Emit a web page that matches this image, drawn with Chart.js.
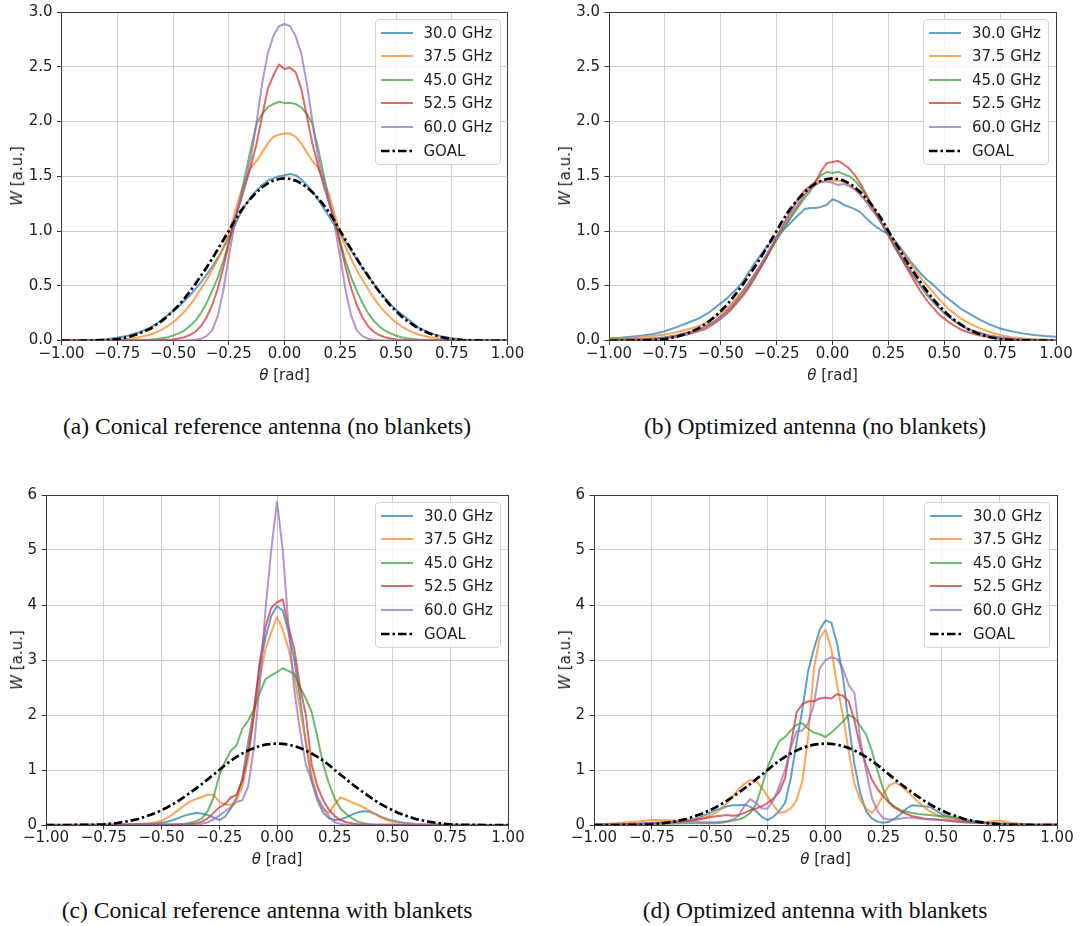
<!DOCTYPE html>
<html><head><meta charset="utf-8">
<script src="https://cdn.jsdelivr.net/npm/chart.js@4.4.1/dist/chart.umd.min.js"></script>
<style>
html,body{margin:0;padding:0;background:#fff;}
body{width:1080px;height:926px;position:relative;overflow:hidden;font-family:'DejaVu Sans',sans-serif;}
.cap{position:absolute;font-family:'Liberation Serif','Times New Roman',serif;font-size:23.6px;color:#111;white-space:nowrap;transform:translate(-50%,-50%);}
.ytl{position:absolute;font-size:15px;color:#222;white-space:nowrap;transform:translate(-50%,-50%) rotate(-90deg);}
.xtl{position:absolute;font-size:15px;color:#222;white-space:nowrap;transform:translate(-50%,-50%);}
.leg{position:absolute;background:rgba(255,255,255,0.8);border:1px solid #d3d3d3;border-radius:4px;box-sizing:border-box;}
.leg .row{position:absolute;left:0;width:100%;height:20px;}
.leg .row svg{position:absolute;left:5px;top:5px;}
.leg .row span{position:absolute;left:48px;top:0;line-height:20px;font-size:15px;color:#222;white-space:nowrap;}
</style>
</head><body>
<script>
// ---------------- DATA ----------------
const THETA = [-1,-0.95,-0.9,-0.85,-0.8,-0.75,-0.7,-0.65,
 -0.6,-0.575,-0.55,-0.525,-0.5,-0.475,-0.45,-0.425,-0.4,-0.375,-0.35,-0.325,-0.3,-0.275,-0.25,-0.225,-0.2,-0.175,-0.15,-0.125,-0.1,-0.075,-0.05,-0.025,
 0,
 0.025,0.05,0.075,0.1,0.125,0.15,0.175,0.2,0.225,0.25,0.275,0.3,0.325,0.35,0.375,0.4,0.425,0.45,0.475,0.5,0.525,0.55,0.575,0.6,
 0.65,0.7,0.75,0.8,0.85,0.9,0.95,1];

const SERIES = ['30.0 GHz','37.5 GHz','45.0 GHz','52.5 GHz','60.0 GHz'];
const GOAL_LABEL = 'GOAL';
const X_TICKS = [-1,-0.75,-0.5,-0.25,0,0.25,0.5,0.75,1];
const Y_TICKS_TOP = [0,0.5,1,1.5,2,2.5,3];
const Y_TICKS_BOTTOM = [0,1,2,3,4,5,6];
const CAPTIONS = ['(a) Conical reference antenna (no blankets)','(b) Optimized antenna (no blankets)','(c) Conical reference antenna with blankets','(d) Optimized antenna with blankets'];

const GOAL = [0,0,0,0.001,0.003,0.012,0.032,0.065,
 0.11,0.145,0.18,0.22,0.27,0.32,0.38,0.445,0.515,0.59,0.665,0.745,0.83,0.915,1.0,1.09,1.17,1.24,1.3,1.355,1.4,1.435,1.46,1.475,
 1.48,
 1.475,1.46,1.435,1.4,1.355,1.3,1.24,1.17,1.09,1.0,0.915,0.83,0.745,0.665,0.59,0.515,0.445,0.38,0.32,0.27,0.22,0.18,0.145,0.11,
 0.065,0.032,0.012,0.003,0.001,0,0,0];

// (a) Conical reference antenna (no blankets)
const A_30 = [0,0,0.002,0.005,0.012,0.025,0.045,0.075,
 0.12,0.15,0.19,0.23,0.27,0.31,0.36,0.41,0.47,0.53,0.6,0.67,0.75,0.84,0.94,1.04,1.15,1.24,1.31,1.37,1.42,1.46,1.48,1.5,
 1.51,
 1.52,1.51,1.47,1.42,1.36,1.29,1.21,1.13,1.05,0.98,0.9,0.82,0.74,0.66,0.59,0.52,0.45,0.39,0.33,0.28,0.24,0.2,0.16,0.12,
 0.07,0.04,0.02,0.01,0.005,0.002,0,0];
const A_375 = [0,0,0,0.001,0.003,0.007,0.015,0.03,
 0.055,0.075,0.1,0.13,0.165,0.21,0.26,0.32,0.39,0.47,0.55,0.64,0.74,0.85,0.97,1.15,1.33,1.47,1.58,1.64,1.72,1.8,1.86,1.88,
 1.89,
 1.89,1.86,1.8,1.72,1.64,1.58,1.47,1.33,1.15,0.97,0.85,0.74,0.64,0.55,0.47,0.39,0.32,0.26,0.21,0.165,0.13,0.1,0.075,0.055,
 0.03,0.015,0.007,0.003,0.001,0,0,0];
const A_45 = [0,0,0,0,0,0.001,0.002,0.005,
 0.01,0.014,0.02,0.03,0.045,0.065,0.09,0.13,0.18,0.25,0.34,0.45,0.57,0.72,0.9,1.08,1.28,1.52,1.76,1.98,2.07,2.13,2.16,2.18,
 2.17,
 2.17,2.16,2.13,2.07,1.98,1.76,1.52,1.28,1.08,0.9,0.72,0.57,0.45,0.34,0.25,0.18,0.13,0.09,0.065,0.045,0.03,0.02,0.014,0.01,
 0.005,0.002,0.001,0,0,0,0,0];
const A_525 = [0,0,0,0,0,0,0,0,
 0.001,0.002,0.004,0.006,0.01,0.018,0.03,0.05,0.08,0.13,0.21,0.32,0.47,0.66,0.88,1.1,1.25,1.42,1.6,1.8,2.05,2.3,2.42,2.52,
 2.48,
 2.49,2.45,2.3,2.05,1.8,1.6,1.42,1.25,1.1,0.88,0.66,0.47,0.32,0.21,0.13,0.08,0.05,0.03,0.018,0.01,0.006,0.004,0.002,0.001,
 0,0,0,0,0,0,0,0];
const A_60 = [0,0,0,0,0,0,0,0,
 0,0,0,0,0,0,0.001,0.003,0.006,0.015,0.04,0.09,0.22,0.45,0.76,1.05,1.27,1.45,1.68,2.0,2.35,2.62,2.78,2.87,
 2.89,
 2.87,2.78,2.62,2.35,2.0,1.68,1.45,1.27,1.05,0.76,0.45,0.22,0.09,0.04,0.015,0.006,0.003,0.001,0,0,0,0,0,0,
 0,0,0,0,0,0,0,0];

// (b) Optimized antenna (no blankets)
const B_30 = [0.02,0.025,0.035,0.045,0.06,0.085,0.12,0.16,
 0.2,0.23,0.26,0.3,0.34,0.38,0.43,0.48,0.54,0.62,0.7,0.77,0.84,0.9,0.95,1.0,1.05,1.1,1.15,1.2,1.21,1.21,1.22,1.24,
 1.29,
 1.27,1.24,1.22,1.2,1.17,1.12,1.07,1.03,1.0,0.97,0.92,0.86,0.79,0.72,0.66,0.6,0.55,0.51,0.46,0.41,0.37,0.33,0.29,0.26,
 0.2,0.15,0.11,0.085,0.065,0.05,0.04,0.035];
const B_375 = [0.01,0.015,0.02,0.03,0.04,0.055,0.075,0.1,
 0.13,0.15,0.18,0.21,0.25,0.29,0.34,0.4,0.46,0.53,0.6,0.68,0.76,0.84,0.92,1.0,1.08,1.16,1.24,1.33,1.4,1.44,1.45,1.46,
 1.46,
 1.46,1.45,1.42,1.38,1.33,1.27,1.2,1.13,1.06,0.99,0.91,0.84,0.77,0.7,0.63,0.56,0.5,0.44,0.38,0.33,0.28,0.24,0.2,0.17,
 0.12,0.08,0.05,0.03,0.02,0.012,0.008,0.005];
const B_45 = [0.005,0.006,0.008,0.012,0.02,0.03,0.045,0.07,
 0.1,0.12,0.15,0.18,0.22,0.26,0.31,0.37,0.43,0.5,0.58,0.66,0.74,0.83,0.92,1.0,1.08,1.16,1.23,1.3,1.36,1.46,1.51,1.54,
 1.53,
 1.54,1.52,1.5,1.46,1.4,1.32,1.23,1.14,1.05,0.96,0.86,0.78,0.7,0.62,0.55,0.48,0.41,0.35,0.3,0.25,0.21,0.17,0.14,0.11,
 0.075,0.045,0.028,0.016,0.01,0.006,0.004,0.003];
const B_525 = [0.005,0.005,0.006,0.008,0.012,0.02,0.035,0.055,
 0.085,0.1,0.13,0.16,0.2,0.24,0.29,0.35,0.41,0.48,0.56,0.65,0.74,0.84,0.94,1.04,1.13,1.22,1.3,1.37,1.41,1.45,1.55,1.62,
 1.63,
 1.64,1.61,1.57,1.51,1.43,1.34,1.24,1.15,1.05,0.96,0.87,0.78,0.69,0.6,0.51,0.43,0.36,0.3,0.24,0.2,0.16,0.13,0.1,0.08,
 0.05,0.03,0.016,0.01,0.006,0.005,0.004,0.004];
const B_60 = [0.005,0.006,0.008,0.012,0.018,0.028,0.045,0.07,
 0.1,0.12,0.15,0.18,0.22,0.27,0.32,0.38,0.45,0.52,0.6,0.68,0.77,0.86,0.94,1.03,1.11,1.19,1.26,1.33,1.38,1.42,1.45,1.45,
 1.44,
 1.42,1.43,1.41,1.38,1.33,1.27,1.2,1.13,1.05,0.97,0.88,0.8,0.72,0.64,0.56,0.49,0.42,0.36,0.3,0.25,0.21,0.17,0.14,0.11,
 0.07,0.045,0.027,0.016,0.01,0.007,0.005,0.004];

// (c) Conical reference antenna with blankets
const C_30 = [0.003,0.004,0.005,0.006,0.008,0.01,0.012,0.015,
 0.02,0.022,0.025,0.03,0.04,0.06,0.09,0.13,0.17,0.2,0.22,0.21,0.18,0.14,0.09,0.15,0.3,0.5,0.85,1.5,2.1,2.9,3.4,3.8,
 3.98,
 3.9,3.5,3.0,2.3,1.5,0.8,0.45,0.22,0.12,0.09,0.1,0.14,0.19,0.23,0.25,0.24,0.2,0.15,0.11,0.08,0.06,0.04,0.03,0.02,
 0.012,0.008,0.005,0.004,0.003,0.002,0.002,0.002];
const C_375 = [0.002,0.002,0.003,0.004,0.005,0.006,0.008,0.01,
 0.015,0.02,0.03,0.05,0.08,0.13,0.2,0.28,0.36,0.43,0.47,0.51,0.55,0.55,0.42,0.38,0.36,0.45,0.7,1.2,2.0,2.65,3.2,3.5,
 3.78,
 3.55,3.2,2.7,2.1,1.5,0.9,0.5,0.28,0.22,0.38,0.5,0.46,0.41,0.37,0.32,0.26,0.2,0.14,0.09,0.06,0.035,0.02,0.012,0.008,
 0.005,0.004,0.003,0.002,0.002,0.002,0.002,0.002];
const C_45 = [0.002,0.002,0.002,0.002,0.002,0.002,0.002,0.002,
 0.003,0.003,0.004,0.005,0.006,0.008,0.01,0.015,0.025,0.04,0.07,0.12,0.25,0.5,0.9,1.15,1.35,1.45,1.75,1.9,2.1,2.4,2.65,2.72,
 2.78,
 2.85,2.8,2.75,2.5,2.3,2.05,1.6,1.1,0.75,0.48,0.3,0.2,0.12,0.06,0.03,0.015,0.008,0.005,0.004,0.003,0.002,0.002,0.002,0.002,
 0.002,0.002,0.002,0.002,0.002,0.002,0.002,0.002];
const C_525 = [0.002,0.002,0.002,0.002,0.002,0.002,0.002,0.002,
 0.003,0.003,0.004,0.005,0.005,0.006,0.007,0.008,0.01,0.015,0.03,0.06,0.12,0.22,0.32,0.38,0.5,0.55,0.8,1.3,2.0,2.95,3.6,3.95,
 4.05,
 4.1,3.6,3.2,2.5,2.0,1.1,0.7,0.45,0.28,0.16,0.09,0.05,0.03,0.015,0.01,0.006,0.004,0.004,0.003,0.003,0.002,0.002,0.002,0.002,
 0.002,0.002,0.002,0.002,0.002,0.002,0.002,0.002];
const C_60 = [0.002,0.002,0.002,0.002,0.002,0.002,0.002,0.002,
 0.003,0.003,0.003,0.003,0.004,0.004,0.005,0.005,0.006,0.008,0.01,0.02,0.05,0.1,0.17,0.25,0.32,0.42,0.45,0.7,1.4,2.55,3.9,5.0,
 5.88,
 5.0,3.6,2.45,1.7,1.1,0.8,0.5,0.32,0.15,0.05,0.02,0.01,0.006,0.004,0.003,0.003,0.002,0.002,0.002,0.002,0.002,0.002,0.002,0.002,
 0.002,0.002,0.002,0.002,0.002,0.002,0.002,0.002];

// (d) Optimized antenna with blankets
const D_30 = [0.005,0.008,0.012,0.02,0.03,0.04,0.05,0.06,
 0.08,0.1,0.13,0.17,0.22,0.27,0.3,0.34,0.36,0.36,0.37,0.33,0.25,0.15,0.09,0.15,0.25,0.4,0.85,1.5,2.1,2.8,3.2,3.55,
 3.72,
 3.68,3.3,2.7,1.85,1.1,0.58,0.25,0.12,0.06,0.04,0.06,0.12,0.2,0.3,0.36,0.35,0.34,0.33,0.27,0.2,0.16,0.13,0.1,0.08,
 0.05,0.035,0.025,0.015,0.01,0.006,0.004,0.003];
const D_375 = [0.01,0.02,0.03,0.05,0.07,0.09,0.09,0.08,
 0.07,0.08,0.1,0.13,0.17,0.22,0.3,0.4,0.52,0.65,0.75,0.82,0.8,0.68,0.52,0.36,0.22,0.24,0.3,0.45,0.8,1.6,2.85,3.4,
 3.55,
 3.2,2.55,2.0,1.35,0.75,0.45,0.3,0.22,0.35,0.55,0.72,0.77,0.72,0.62,0.52,0.42,0.33,0.25,0.2,0.15,0.12,0.1,0.08,0.07,
 0.05,0.06,0.08,0.04,0.02,0.01,0.005,0.003];
const D_45 = [0.003,0.004,0.005,0.007,0.01,0.015,0.02,0.025,
 0.03,0.03,0.03,0.03,0.03,0.03,0.04,0.06,0.08,0.1,0.14,0.22,0.38,0.7,1.05,1.3,1.52,1.6,1.72,1.82,1.85,1.75,1.68,1.65,
 1.6,
 1.68,1.78,1.88,2.0,1.95,1.8,1.65,1.35,0.98,0.64,0.42,0.33,0.27,0.24,0.22,0.2,0.19,0.18,0.17,0.16,0.16,0.15,0.13,0.1,
 0.06,0.04,0.03,0.02,0.01,0.006,0.004,0.003];
const D_525 = [0.005,0.007,0.01,0.015,0.02,0.03,0.04,0.05,
 0.07,0.08,0.1,0.12,0.14,0.16,0.17,0.18,0.17,0.18,0.22,0.27,0.3,0.34,0.4,0.48,0.6,0.85,1.45,2.05,2.2,2.25,2.25,2.3,
 2.32,
 2.3,2.38,2.35,2.25,1.9,1.42,1.1,0.83,0.65,0.52,0.4,0.31,0.25,0.2,0.16,0.14,0.12,0.11,0.1,0.09,0.08,0.07,0.06,0.05,
 0.04,0.03,0.02,0.012,0.008,0.005,0.004,0.003];
const D_60 = [0.005,0.006,0.008,0.012,0.02,0.03,0.04,0.05,
 0.06,0.06,0.06,0.05,0.05,0.05,0.06,0.07,0.1,0.17,0.35,0.47,0.4,0.3,0.3,0.45,0.7,1.0,1.4,1.7,1.72,1.85,2.2,2.85,
 3.0,
 3.05,3.02,2.85,2.55,2.4,1.55,1.0,0.5,0.25,0.12,0.1,0.1,0.12,0.13,0.13,0.12,0.11,0.1,0.1,0.09,0.08,0.07,0.06,0.05,
 0.04,0.03,0.02,0.012,0.008,0.005,0.004,0.003];

// ---------------- STYLE / LAYOUT ----------------
const COLORS = ['rgba(31,119,180,0.7)','rgba(255,127,14,0.7)','rgba(44,160,44,0.7)','rgba(214,39,40,0.7)','rgba(148,103,189,0.7)'];
const SPINE = '#3a3a3a';
const GRIDC = '#cfcfcf';
const FONT = "'DejaVu Sans', sans-serif";
const FS = 15;
const LINE_W = 2;
const GOAL_W = 2.7;
const GOAL_DASH = [8.5, 3, 2.5, 3];

const PANELS = [
 {series:[A_30,A_375,A_45,A_525,A_60], yTicks:Y_TICKS_TOP, yDec:1,
  canvas:{l:0,t:0,w:540,h:395}, plot:{l:61.5,t:12,r:507.5,b:340.5},
  ytitle:[16.5,176], xtitle:[284.5,375], cap:[267,426]},
 {series:[B_30,B_375,B_45,B_525,B_60], yTicks:Y_TICKS_TOP, yDec:1,
  canvas:{l:540,t:0,w:540,h:395}, plot:{l:609,t:12,r:1056,b:340.5},
  ytitle:[565,176], xtitle:[832.5,375], cap:[815,426]},
 {series:[C_30,C_375,C_45,C_525,C_60], yTicks:Y_TICKS_BOTTOM, yDec:0,
  canvas:{l:0,t:470,w:540,h:400}, plot:{l:46,t:495,r:508,b:825},
  ytitle:[16.5,660], xtitle:[277,859], cap:[267,910]},
 {series:[D_30,D_375,D_45,D_525,D_60], yTicks:Y_TICKS_BOTTOM, yDec:0,
  canvas:{l:540,t:470,w:540,h:400}, plot:{l:594,t:495,r:1057,b:825},
  ytitle:[565,660], xtitle:[825.5,859], cap:[815,910]}
];

Chart.defaults.font.family = FONT;
Chart.defaults.font.size = FS;
Chart.defaults.color = '#222';

function minus(v, dec){ return (v < -1e-9 ? '\u2212' : '') + Math.abs(v).toFixed(dec); }
function near(a,b){ return Math.abs(a-b) < 1e-9; }

function buildPanel(p, idx){
  [THETA.length].concat(p.series.map(s=>s.length)).forEach(n=>{ if(n!==THETA.length) console.error('length mismatch', idx, n); });
  const cv = document.createElement('canvas');
  cv.width = p.canvas.w; cv.height = p.canvas.h;
  cv.style.cssText = `position:absolute;left:${p.canvas.l}px;top:${p.canvas.t}px;width:${p.canvas.w}px;height:${p.canvas.h}px;`;
  document.body.appendChild(cv);
  const yW = p.plot.l - p.canvas.l;
  const xH = p.canvas.t + p.canvas.h - p.plot.b;
  const padTop = p.plot.t - p.canvas.t;
  const padRight = p.canvas.l + p.canvas.w - p.plot.r;
  const yMin = p.yTicks[0], yMax = p.yTicks[p.yTicks.length-1];
  const xMin = X_TICKS[0], xMax = X_TICKS[X_TICKS.length-1];

  const datasets = p.series.map((arr,i)=>({
    label: SERIES[i],
    data: THETA.map((t,k)=>({x:t, y:arr[k]})),
    borderColor: COLORS[i], backgroundColor: COLORS[i],
    borderWidth: LINE_W, pointRadius: 0, fill: false, tension: 0,
    borderJoinStyle: 'round', order: 10 - i
  }));
  datasets.push({
    label: GOAL_LABEL,
    data: THETA.map((t,k)=>({x:t, y:GOAL[k]})),
    borderColor: '#000', backgroundColor: '#000',
    borderWidth: GOAL_W, borderDash: GOAL_DASH, pointRadius: 0, fill: false, tension: 0,
    order: 1
  });

  new Chart(cv, {
    type: 'line',
    data: { datasets },
    options: {
      responsive: false, animation: false, events: [],
      layout: { autoPadding: false, padding: { left: 0, top: padTop, right: padRight, bottom: 0 } },
      plugins: { legend: { display: false }, tooltip: { enabled: false } },
      scales: {
        x: {
          type: 'linear', min: xMin, max: xMax,
          afterBuildTicks: s => { s.ticks = X_TICKS.map(v=>({value:v})); },
          afterFit: s => { s.height = xH; s.paddingLeft = 0; s.paddingRight = 0; },
          ticks: { autoSkip: false, maxRotation: 0, minRotation: 0, padding: 0, color: '#222',
                   font: { size: FS, family: FONT }, callback: v => minus(v, 2) },
          grid: { color: c => (c.tick && (near(c.tick.value,xMin) || near(c.tick.value,xMax))) ? SPINE : GRIDC,
                  lineWidth: 1, tickLength: 4.5, tickColor: SPINE, tickWidth: 1, drawTicks: true },
          border: { display: true, color: SPINE, width: 1 }
        },
        y: {
          type: 'linear', min: yMin, max: yMax,
          afterBuildTicks: s => { s.ticks = p.yTicks.map(v=>({value:v})); },
          afterFit: s => { s.width = yW; s.paddingTop = 0; s.paddingBottom = 0; },
          ticks: { padding: 4.5, color: '#222', font: { size: FS, family: FONT }, callback: v => minus(v, p.yDec) },
          grid: { color: c => (c.tick && (near(c.tick.value,yMin) || near(c.tick.value,yMax))) ? SPINE : GRIDC,
                  lineWidth: 1, tickLength: 4.5, tickColor: SPINE, tickWidth: 1, drawTicks: true },
          border: { display: true, color: SPINE, width: 1 }
        }
      }
    }
  });

  // axis titles
  const yt = document.createElement('div'); yt.className = 'ytl';
  yt.style.left = p.ytitle[0] + 'px'; yt.style.top = p.ytitle[1] + 'px';
  yt.innerHTML = '<i>W</i> [a.u.]';
  document.body.appendChild(yt);
  const xt = document.createElement('div'); xt.className = 'xtl';
  xt.style.left = p.xtitle[0] + 'px'; xt.style.top = p.xtitle[1] + 'px';
  xt.innerHTML = '<i>\u03B8</i> [rad]';
  document.body.appendChild(xt);

  // legend (upper right, inside axes)
  const lw = 126, lh = 146;
  const lg = document.createElement('div'); lg.className = 'leg';
  lg.style.left = (p.plot.r - 7 - lw) + 'px'; lg.style.top = (p.plot.t + 7) + 'px';
  lg.style.width = lw + 'px'; lg.style.height = lh + 'px';
  const labels = SERIES.concat([GOAL_LABEL]);
  labels.forEach((lab, i) => {
    const cy = 12.5 + i * 23.6;
    const row = document.createElement('div'); row.className = 'row';
    row.style.top = (cy - 10) + 'px';
    const isGoal = i === SERIES.length;
    const stroke = isGoal ? '#000' : COLORS[i];
    const sw = isGoal ? GOAL_W : LINE_W;
    const dash = isGoal ? ` stroke-dasharray="${GOAL_DASH.join(' ')}"` : '';
    row.innerHTML = `<svg width="32" height="10" viewBox="0 0 32 10"><line x1="0" y1="5" x2="32" y2="5" stroke="${stroke}" stroke-width="${sw}"${dash}/></svg><span>${lab}</span>`;
    lg.appendChild(row);
  });
  document.body.appendChild(lg);

  // caption
  const cp = document.createElement('div'); cp.className = 'cap';
  cp.style.left = p.cap[0] + 'px'; cp.style.top = p.cap[1] + 'px';
  cp.textContent = CAPTIONS[idx];
  document.body.appendChild(cp);
}

PANELS.forEach(buildPanel);
</script>
</body></html>
